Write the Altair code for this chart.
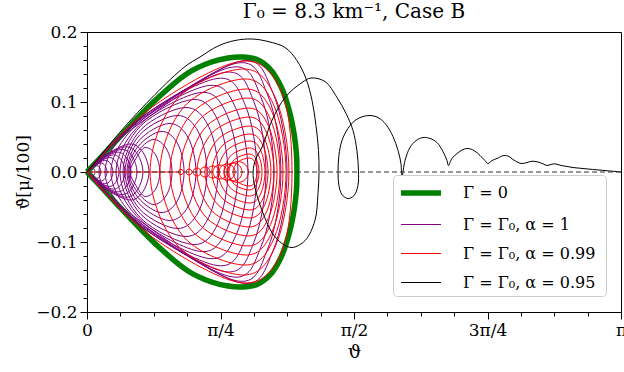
import math
import altair as alt
import pandas as pd

SERIF = "DejaVu Serif"
SERIES = ["Γ = 0", "Γ = Γ₀,  α = 1", "Γ = Γ₀,  α = 0.99", "Γ = Γ₀,  α = 0.95"]
COLORS = ["#008000", "#800080", "#ff0000", "#000000"]
WIDTHS = [5.5, 1.0, 1.0, 1.0]

# ---- Gamma = 0 (closed separatrix), upper branch then lower branch back to origin
green_x = [0, 0.076, 0.200, 0.400, 0.594, 0.724, 0.830, 0.912, 1.000, 1.077, 1.141, 1.188, 1.218, 1.232, 1.235,
           1.232, 1.218, 1.188, 1.141, 1.077, 1.000, 0.912, 0.830, 0.724, 0.594, 0.400, 0.200, 0.076, 0]
green_y = [0, 0.0193, 0.0521, 0.1021, 0.1414, 0.1564, 0.1629, 0.1643, 0.1607, 0.1471, 0.1221, 0.0893, 0.055, 0.0264, 0,
           -0.0264, -0.055, -0.0893, -0.1221, -0.1471, -0.1607, -0.1643, -0.1629, -0.1564, -0.1414, -0.1021, -0.0521, -0.0193, 0]

# ---- alpha = 1 (purple): loops anchored at the origin (upper-left, top, upper-right, right end)
pl_ulx = [0.0132, 0.0231, 0.0329, 0.0428, 0.0527, 0.0626, 0.0725, 0.0824, 0.0922, 0.1021, 0.282, 0.277, 0.277]
pl_uly = [0.003, 0.0052, 0.0074, 0.0096, 0.0119, 0.0141, 0.0163, 0.0186, 0.0208, 0.023, 0.0693, 0.0664, 0.0636]
pl_tx = [0.032, 0.056, 0.080, 0.104, 0.128, 0.152, 0.176, 0.200, 0.224, 0.248, 0.841, 0.871, 0.894]
pl_ty = [0.0051, 0.009, 0.0129, 0.0167, 0.0206, 0.0244, 0.0283, 0.0321, 0.036, 0.0399, 0.1493, 0.155, 0.1579]
pl_urx = [0.0424, 0.0741, 0.1059, 0.1377, 0.1694, 0.2012, 0.233, 0.2648, 0.2965, 0.3283, 1.025, 1.063, 1.095]
pl_ury = [0.0037, 0.0064, 0.0091, 0.0119, 0.0146, 0.0174, 0.0201, 0.0229, 0.0256, 0.0283, 0.106, 0.110, 0.1121]
pl_xr = [0.0471, 0.0824, 0.1177, 0.153, 0.1883, 0.2236, 0.2589, 0.2942, 0.3294, 0.3647, 1.100, 1.141, 1.177]

# ---- alpha = 1 (purple): free loops (left end, upper-left, top, upper-right, right end)
pu_xl = [0.253, 0.247, 0.241, 0.235, 0.224, 0.212, 0.194, 0.171, 0.141, 0.106, 0.071]
pu_ulx = [0.288, 0.294, 0.300, 0.306, 0.312, 0.318, 0.318, 0.318, 0.312, 0.300, 0.288]
pu_uly = [0.0193, 0.0279, 0.0364, 0.045, 0.0536, 0.0607, 0.0664, 0.0693, 0.0721, 0.0736, 0.0721]
pu_tx = [0.341, 0.388, 0.435, 0.482, 0.529, 0.577, 0.624, 0.671, 0.718, 0.765, 0.806]
pu_ty = [0.035, 0.0464, 0.0579, 0.0693, 0.0807, 0.0921, 0.1036, 0.1136, 0.1236, 0.1336, 0.1421]
pu_urx = [0.403, 0.468, 0.532, 0.595, 0.655, 0.715, 0.770, 0.825, 0.881, 0.932, 0.981]
pu_ury = [0.0249, 0.0329, 0.0411, 0.0492, 0.0573, 0.0654, 0.0736, 0.0807, 0.0878, 0.0949, 0.1009]
pu_xr = [0.429, 0.500, 0.571, 0.641, 0.706, 0.771, 0.829, 0.888, 0.947, 1.000, 1.053]

# ---- alpha = 0.99 (red): outer loop anchored at the origin
rl_ulx = [0.371]
rl_uly = [0.0907]
rl_tx = [0.900]
rl_ty = [0.1579]
rl_urx = [1.141]
rl_ury = [0.1164]
rl_xr = [1.206]

# ---- alpha = 0.99 (red): free loops
rd_xl = [0.371, 0.429, 0.488, 0.547, 0.600, 0.647, 0.694, 0.735, 0.771, 0.806, 0.835, 0.859,
         0.538, 0.582, 0.624, 0.665, 0.706, 0.741, 0.777, 0.806, 0.827]
rd_ulx = [0.531, 0.575, 0.618, 0.662, 0.701, 0.736, 0.770, 0.800, 0.825, 0.850, 0.870, 0.887,
          0.542, 0.588, 0.631, 0.674, 0.716, 0.753, 0.790, 0.821, 0.844]
rd_uly = [0.1045, 0.0943, 0.0842, 0.075, 0.0649, 0.0558, 0.0467, 0.0385, 0.0314, 0.0243, 0.0183, 0.0142,
          0.0025, 0.003, 0.0041, 0.0051, 0.0061, 0.0071, 0.0081, 0.0091, 0.0106]
rd_tx = [0.922, 0.930, 0.937, 0.944, 0.950, 0.953, 0.957, 0.958, 0.958, 0.958, 0.955, 0.955,
         0.553, 0.600, 0.647, 0.694, 0.741, 0.782, 0.824, 0.859, 0.888]
rd_ty = [0.1471, 0.1329, 0.1186, 0.1057, 0.0914, 0.0786, 0.0657, 0.0543, 0.0443, 0.0343, 0.0257, 0.020,
         0.0036, 0.0043, 0.0057, 0.0071, 0.0086, 0.010, 0.0114, 0.0129, 0.015]
rd_urx = [1.111, 1.101, 1.091, 1.080, 1.069, 1.058, 1.046, 1.034, 1.021, 1.008, 0.995, 0.987,
          0.564, 0.612, 0.664, 0.715, 0.767, 0.812, 0.857, 0.897, 0.932]
rd_ury = [0.1045, 0.0943, 0.0842, 0.075, 0.0649, 0.0558, 0.0467, 0.0385, 0.0314, 0.0243, 0.0183, 0.0142,
          0.0025, 0.003, 0.0041, 0.0051, 0.0061, 0.0071, 0.0081, 0.0091, 0.0106]
rd_xr = [1.188, 1.171, 1.153, 1.135, 1.118, 1.100, 1.082, 1.065, 1.047, 1.030, 1.012, 1.000,
         0.568, 0.618, 0.671, 0.724, 0.777, 0.824, 0.871, 0.912, 0.950]
rd_axis_x = [0, 0.53]
rd_axis_y = [0, 0]

# ---- alpha = 0.95 (black) trajectory
bk_x = [0, 0.076, 0.200, 0.400, 0.577, 0.665, 0.771, 0.871, 0.971, 1.065, 1.165, 1.235, 1.288, 1.324, 1.347,
        1.362, 1.365, 1.359, 1.341, 1.283, 1.206, 1.147, 1.088, 1.030, 0.988, 0.977,
        0.994, 1.030, 1.088, 1.165, 1.265, 1.318, 1.400, 1.471, 1.524, 1.565, 1.588, 1.597, 1.594, 1.571,
        1.535, 1.500, 1.482, 1.477, 1.482, 1.500, 1.535, 1.577, 1.624, 1.665, 1.712, 1.759, 1.800, 1.830,
        1.847, 1.853,
        1.871, 1.900, 1.936, 1.977, 2.018, 2.059, 2.094, 2.118, 2.126, 2.147, 2.177, 2.212, 2.241, 2.277,
        2.312, 2.341, 2.359, 2.383, 2.412, 2.453, 2.483, 2.506, 2.536, 2.559, 2.589, 2.618, 2.653, 2.683,
        2.706, 2.730, 2.753, 2.789, 2.824, 2.859, 2.900, 2.947, 3.000, 3.065, 3.1416]
bk_y = [0, 0.0221, 0.0586, 0.1107, 0.1507, 0.1643, 0.180, 0.1879, 0.190, 0.1864, 0.1779, 0.1593, 0.1336, 0.1021,
        0.0664, 0.0307, -0.0007, -0.0307, -0.0693, -0.0979, -0.1079, -0.1021, -0.0864, -0.055, -0.0221, 0,
        0.0193, 0.0354, 0.0736, 0.1064, 0.1279, 0.1343, 0.1293, 0.1064, 0.0836, 0.0593, 0.0307, 0.0021,
        -0.0193, -0.0336, -0.0379, -0.0321, -0.0193, -0.0007, 0.0236, 0.045, 0.0621, 0.0736, 0.0793, 0.0807,
        0.0779, 0.0679, 0.0507, 0.0307, 0.0121, -0.0064,
        0.0164, 0.035, 0.045, 0.0493, 0.0479, 0.0421, 0.0293, 0.0164, 0.0093, 0.0193, 0.0264, 0.0321, 0.0336,
        0.0307, 0.0236, 0.0164, 0.0121, 0.0164, 0.0193, 0.0236, 0.0221, 0.0179, 0.0136, 0.0121, 0.0136, 0.0154,
        0.0143, 0.0117, 0.0093, 0.0107, 0.0117, 0.0093, 0.0079, 0.0064, 0.0054, 0.0043, 0.0031, 0.0017, 0]

# ---- axis ticks (major + minor, majors get longer ticks and labels)
x_ticks = [k * math.pi / 16 for k in range(17)]
y_ticks = [round(-0.2 + 0.02 * k, 2) for k in range(21)]


def path_table(series, xs, ys):
    return pd.DataFrame({"series": series, "loop": series, "i": list(range(len(xs))), "x": xs, "y": ys})


def loop_table(series, tag, xl, ulx, uly, tx, ty, urx, ury, xr, back_to_start=False):
    rows = []
    for k in range(len(ulx)):
        pts = [(xl[k], 0.0), (ulx[k], uly[k]), (tx[k], ty[k]), (urx[k], ury[k]), (xr[k], 0.0),
               (urx[k], -ury[k]), (tx[k], -ty[k]), (ulx[k], -uly[k])]
        if back_to_start:
            pts.append((xl[k], 0.0))
        for i, (x, y) in enumerate(pts):
            rows.append({"series": series, "loop": f"{tag}-{k}", "i": i, "x": x, "y": y})
    return pd.DataFrame(rows)


green_df = path_table(SERIES[0], green_x, green_y)
purple_lens_df = loop_table(SERIES[1], "pl", [0.0] * len(pl_ulx), pl_ulx, pl_uly, pl_tx, pl_ty, pl_urx, pl_ury,
                            pl_xr, back_to_start=True)
purple_df = loop_table(SERIES[1], "pu", pu_xl, pu_ulx, pu_uly, pu_tx, pu_ty, pu_urx, pu_ury, pu_xr)
red_lens_df = loop_table(SERIES[2], "rl", [0.0], rl_ulx, rl_uly, rl_tx, rl_ty, rl_urx, rl_ury, rl_xr,
                         back_to_start=True)
red_df = loop_table(SERIES[2], "rd", rd_xl, rd_ulx, rd_uly, rd_tx, rd_ty, rd_urx, rd_ury, rd_xr)
red_axis_df = path_table(SERIES[2], rd_axis_x, rd_axis_y)
black_df = path_table(SERIES[3], bk_x, bk_y)

xs = alt.Scale(domain=[0, math.pi], nice=False, zero=False)
ys = alt.Scale(domain=[-0.2, 0.2], nice=False, zero=False)

X_MAJOR = "abs(datum.value / (PI / 4) - round(datum.value / (PI / 4))) < 0.01"
Y_MAJOR = "abs(datum.value * 10 - round(datum.value * 10)) < 0.01"

x_axis = alt.Axis(values=x_ticks, grid=False, title="ϑ",
                  tickSize={"condition": {"test": X_MAJOR, "value": 7}, "value": 4},
                  labelExpr="round(datum.value / (PI / 16)) % 4 != 0 ? '' : datum.value < 0.1 ? '0' : datum.value < 1 ? 'π/4' : datum.value < 2 ? 'π/2' : datum.value < 3 ? '3π/4' : 'π'",
                  labelFlush=False, labelOverlap=False, labelFont=SERIF, labelFontSize=17,
                  titleFont=SERIF, titleFontSize=19, titleFontWeight="normal", labelPadding=3, titlePadding=4,
                  domainColor="black", tickColor="black", labelColor="black", titleColor="black")
y_axis = alt.Axis(values=y_ticks, grid=False, title="ϑ̇[μ/100]",
                  tickSize={"condition": {"test": Y_MAJOR, "value": 7}, "value": 4},
                  labelExpr="abs(datum.value * 10 - round(datum.value * 10)) > 0.01 ? '' : replace(format(datum.value, '.1f'), '-', '−')",
                  labelFlush=False, labelOverlap=False,
                  labelFont=SERIF, labelFontSize=17, titleFont=SERIF, titleFontSize=17,
                  titleFontWeight="normal", labelPadding=3,
                  titleAngle=270, titleAlign="center", titleBaseline="bottom", titleX=-55, titleY=140,
                  domainColor="black", tickColor="black", labelColor="black", titleColor="black")

legend = alt.Legend(orient="none", legendX=306, legendY=143, title=None, symbolType="M-1,0H3",
                    symbolSize=400, labelOffset=39, labelExpr="'  ' + datum.label", labelFont=SERIF,
                    labelFontSize=16, labelColor="black", labelLimit=300,
                    padding=5, rowPadding=10, strokeColor="#cccccc", fillColor="white", cornerRadius=4)

color = alt.Color("series:N", scale=alt.Scale(domain=SERIES, range=COLORS), legend=legend)
swidth = alt.StrokeWidth("series:N", scale=alt.Scale(type="ordinal", domain=SERIES, range=WIDTHS), legend=legend)


def lines(df, interp):
    return alt.Chart(df).mark_line(interpolate=interp).encode(
        x=alt.X("x:Q", scale=xs, axis=x_axis),
        y=alt.Y("y:Q", scale=ys, axis=y_axis),
        color=color, strokeWidth=swidth,
        detail="loop:N", order="i:Q",
    )


zero = alt.Chart(pd.DataFrame({"z": [0]})).mark_rule(strokeDash=[5, 3], color="#333333", strokeWidth=1.1).encode(
    y=alt.Y("z:Q", scale=ys, axis=y_axis))

chart = alt.layer(
    lines(green_df, "catmull-rom"),
    lines(purple_lens_df, "cardinal"),
    lines(purple_df, "cardinal-closed"),
    lines(red_axis_df, "linear"),
    lines(red_lens_df, "cardinal"),
    lines(red_df, "cardinal-closed"),
    lines(black_df, "catmull-rom"),
    zero,
).properties(
    width=534, height=280,
    padding={"left": 87, "top": 32, "right": 3, "bottom": 60},
    autosize=alt.AutoSizeParams(type="none"),
    title=alt.TitleParams(text="Γ₀ = 8.3 km⁻¹, Case B", font=SERIF, fontSize=20, fontWeight="normal",
                          anchor="middle", color="black", offset=1),
).configure_view(stroke="black", strokeWidth=1)

chart.save("out.html", embed_options={"renderer": "svg", "actions": False})
